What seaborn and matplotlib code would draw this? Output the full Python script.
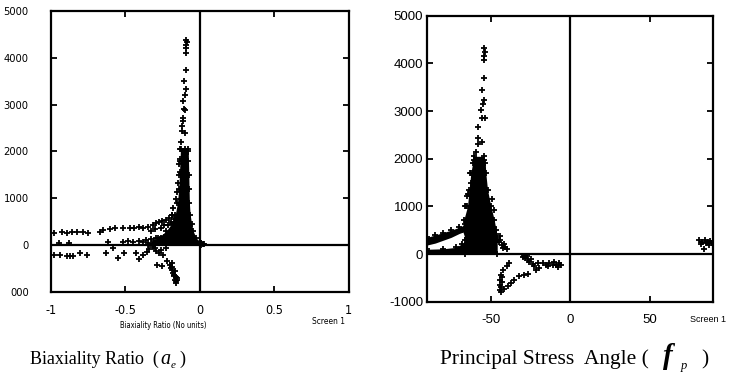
import matplotlib
matplotlib.use("Agg")
import matplotlib.pyplot as plt
import pandas as pd
import seaborn as sns

# ---------------- Biaxiality ratio panel ----------------
ratio_spike_x = [-0.092, -0.088, -0.092, -0.090, -0.092, -0.094, -0.104, -0.096, -0.100, -0.110,
                 -0.104, -0.098, -0.116, -0.112, -0.118, -0.120, -0.100, -0.126, -0.124, -0.098,
                 -0.132, -0.138, -0.136, -0.146, -0.152, -0.160, -0.178, -0.186, -0.172, -0.080,
                 -0.090]
ratio_spike_y = [4380, 4330, 4270, 4200, 4100, 3740, 3500, 3330, 3210, 3080,
                 2900, 2890, 2720, 2640, 2540, 2440, 2400, 2190, 2040, 2060,
                 1840, 1720, 1560, 1330, 1140, 990, 790, 640, 560, 2000,
                 1950]

ratio_core_y = [2050, 1800, 1500, 1200, 900, 650, 450, 300, 150, 40, 0]
ratio_core_lo = [-0.130, -0.133, -0.137, -0.142, -0.150, -0.165, -0.190, -0.225, -0.280, -0.350, -0.350]
ratio_core_hi = [-0.078, -0.076, -0.074, -0.072, -0.070, -0.065, -0.055, -0.045, -0.025, 0.010, 0.010]

ratio_band_x = [-0.982, -0.927, -0.894, -0.860, -0.827, -0.783, -0.749, -0.672, -0.650, -0.605,
                -0.572, -0.517, -0.472, -0.439, -0.406, -0.384, -0.350, -0.317, -0.295, -0.273,
                -0.251, -0.228, -0.206, -0.184, -0.195, -0.215, -0.240, -0.260, -0.300, -0.330]
ratio_band_y = [247, 283, 247, 283, 283, 269, 247, 283, 318, 339,
                354, 354, 368, 368, 389, 368, 389, 424, 460, 481,
                509, 530, 566, 636, 495, 424, 430, 360, 330, 300]

ratio_low_x = [-0.949, -0.882, -0.616, -0.517, -0.483, -0.450, -0.406, -0.361, -0.328, -0.295,
               -0.262, -0.240, -0.217, -0.200, -0.380, -0.310, -0.270, 0.005, 0.020, 0.027]
ratio_low_y = [50, 50, 71, 57, 85, 71, 85, 106, 127, 141,
               156, 177, 198, 226, 60, 90, 120, 40, 30, 25]

ratio_neg_x = [-0.980, -0.940, -0.894, -0.872, -0.850, -0.805, -0.756, -0.632, -0.583, -0.550,
               -0.512, -0.428, -0.406, -0.384, -0.355, -0.340, -0.313, -0.295, -0.273, -0.250,
               -0.228, -0.300, -0.260]
ratio_neg_y = [-212, -212, -233, -233, -233, -177, -226, -177, -71, -283,
               -177, -177, -304, -212, -156, -85, -35, -120, -177, -212,
               -57, -60, -100]

ratio_arm_x = [-0.286, -0.252, -0.218, -0.201, -0.195, -0.184, -0.180, -0.173, -0.166, -0.162,
               -0.157, -0.184, -0.168, -0.150, -0.176, -0.158, -0.152, -0.190]
ratio_arm_y = [-424, -460, -354, -424, -495, -530, -600, -672, -742, -813,
               -778, -389, -566, -707, -640, -690, -760, -470]

# ---------------- Principal stress angle panel ----------------
angle_spike_x = [-54.6, -54.0, -54.2, -54.6, -54.4, -55.3, -54.2, -54.8, -56.3, -55.3,
                 -53.6, -57.8, -58.4, -55.3, -59.5, -60.5, -54.2, -58.0, -62.6, -64.5,
                 -66.0, -63.0, -64.7, -65.8, -63.7, -47.9, -49.0]
angle_spike_y = [4316, 4246, 4150, 4071, 3687, 3443, 3233, 3150, 3024, 2849,
                 2849, 2675, 2430, 2360, 2151, 1976, 1976, 2300, 1500, 1250,
                 1000, 1700, 1208, 999, 789, 929, 1150]

angle_core_y = [2050, 1900, 1700, 1350, 1000, 720, 510, 300, 0]
angle_core_lo = [-60.5, -61.5, -62.6, -63.7, -64.7, -67.0, -68.0, -66.0, -66.0]
angle_core_hi = [-54.2, -53.5, -53.2, -52.1, -50.0, -47.9, -46.8, -46.0, -46.0]

angle_upper_x = [-90, -85, -80, -75, -70, -66]
angle_upper_lo = [190, 230, 290, 350, 430, 480]
angle_upper_hi = [350, 400, 450, 500, 560, 620]

angle_lower_x = [-90, -80, -72, -68, -65, -62]
angle_lower_hi = [100, 110, 140, 220, 330, 480]

angle_side_x = [-50, -48, -47, -46, -45, -44, -43, -42, -41, -40, -44.5, -42.5]
angle_side_y = [700, 560, 420, 330, 250, 300, 180, 220, 150, 110, 380, 130]

angle_hook_x = [-38.4, -40.1, -42.6, -43.7, -44.1, -44.3, -44.1, -43.7, -41.6, -39.5,
                -37.4, -35.3, -32.1, -29.0, -26.9, -21.6, -43.0, -42.8, -43.5]
angle_hook_y = [-189, -244, -328, -433, -538, -642, -747, -803, -733, -663,
                -607, -538, -468, -433, -412, -342, -480, -590, -700]

angle_neg_x = [-30.0, -28.4, -26.9, -24.8, -25.8, -23.7, -22.7, -20.6, -17.4, -15.3,
               -13.2, -11.1, -9.0, -8.0, -5.9, -6.9, -10.1, -14.3, -19.5, -29.0, -27.5]
angle_neg_y = [-63, -84, -119, -105, -175, -203, -244, -189, -189, -223,
               -189, -223, -223, -272, -223, -189, -175, -258, -293, -40, -50]

angle_edge_x = [81.3, 83.0, 85.0, 86.5, 88.0, 89.0, 84.4, 82.5, 87.0, 85.5]
angle_edge_y = [294, 260, 300, 250, 280, 240, 100, 200, 190, 230]

ratio_ticks = [-1, -0.5, 0, 0.5, 1]
ratio_ticklabels = ["-1", "-0.5", "0", "0.5", "1"]
value_ticks = [-1000, 0, 1000, 2000, 3000, 4000, 5000]
ratio_value_labels = ["000", "0", "1000", "2000", "3000", "4000", "5000"]
angle_value_labels = ["-1000", "0", "1000", "2000", "3000", "4000", "5000"]
angle_ticks = [-50, 0, 50]

sns.set_style("white")
plt.rcParams["font.family"] = ["Liberation Sans"]
plt.rcParams["text.color"] = "black"
plt.rcParams["xtick.color"] = "black"
plt.rcParams["ytick.color"] = "black"

narrow = dict(family="DejaVu Sans", stretch="condensed")

fig = plt.figure(figsize=(7.4, 3.76), dpi=100)
ax1 = fig.add_axes([51 / 740, 1 - 291.7 / 376, 297.6 / 740, 280.7 / 376])
ax2 = fig.add_axes([427.3 / 740, 1 - 301.7 / 376, 286 / 740, 286 / 376])

mk = dict(marker="+", color="black", s=18, linewidth=1.3, legend=False)


def scatter(ax, xs, ys):
    sns.scatterplot(data=pd.DataFrame({"x": xs, "y": ys}), x="x", y="y", ax=ax, **mk)


# left panel marks
ax1.fill_betweenx(ratio_core_y, ratio_core_lo, ratio_core_hi, color="black", lw=0)
scatter(ax1, ratio_core_lo, ratio_core_y)
scatter(ax1, ratio_core_hi, ratio_core_y)
for xs, ys in [(ratio_spike_x, ratio_spike_y), (ratio_band_x, ratio_band_y),
               (ratio_low_x, ratio_low_y), (ratio_neg_x, ratio_neg_y),
               (ratio_arm_x, ratio_arm_y)]:
    scatter(ax1, xs, ys)

# right panel marks
ax2.fill_betweenx(angle_core_y, angle_core_lo, angle_core_hi, color="black", lw=0)
ax2.fill_between(angle_upper_x, angle_upper_lo, angle_upper_hi, color="black", lw=0)
ax2.fill_between(angle_lower_x, 0, angle_lower_hi, color="black", lw=0)
scatter(ax2, angle_core_lo, angle_core_y)
scatter(ax2, angle_core_hi, angle_core_y)
scatter(ax2, angle_upper_x, angle_upper_hi)
scatter(ax2, angle_lower_x, angle_lower_hi)
for xs, ys in [(angle_spike_x, angle_spike_y), (angle_side_x, angle_side_y),
               (angle_hook_x, angle_hook_y), (angle_neg_x, angle_neg_y),
               (angle_edge_x, angle_edge_y)]:
    scatter(ax2, xs, ys)

for ax in (ax1, ax2):
    ax.axhline(0, color="black", lw=1.6, zorder=0.5)
    ax.axvline(0, color="black", lw=1.6, zorder=0.5)
    ax.set_ylim(-1000, 5000)
    ax.set_xlabel("")
    ax.set_ylabel("")
    for sp in ax.spines.values():
        sp.set_linewidth(1.6)
        sp.set_color("black")
    ax.tick_params(direction="in", length=4, width=1.3, color="black",
                   top=True, right=True, bottom=True, left=True)
    ax.set_yticks(value_ticks)

ax1.set_xlim(-1, 1)
ax1.set_xticks(ratio_ticks)
ax1.set_xticklabels(ratio_ticklabels, fontsize=9, **narrow)
ax1.set_yticklabels(ratio_value_labels, fontsize=8, **narrow)
ax1.tick_params(axis="x", pad=9)
ax1.tick_params(axis="y", pad=16)

ax2.set_xlim(-90, 90)
ax2.set_xticks(angle_ticks)
ax2.set_xticklabels([str(t) for t in angle_ticks], fontsize=9.5)
ax2.set_yticklabels(angle_value_labels, fontsize=9.5)
ax2.tick_params(axis="x", pad=9)
ax2.tick_params(axis="y", pad=3)

W, H = 740, 376


def ftext(x, y, s, **kw):
    return fig.text(x / W, 1 - y / H, s, **kw)


ftext(163, 326, "Biaxiality Ratio (No units)", fontsize=5.5, ha="center", va="center", **narrow)
ftext(328, 322, "Screen 1", fontsize=6, ha="center", va="center", **narrow)
ftext(690, 319, "Screen 1", fontsize=6.5, ha="left", va="center")
ftext(570, 340, "Angle (Degrees)", fontsize=8, ha="center", va="center")
fig.patches.append(plt.Rectangle((440 / W, 0), 260 / W, 1 - 334 / H, transform=fig.transFigure,
                                 color="white", zorder=5))

renderer = fig.canvas.get_renderer()


def caption(x, y, pieces):
    # pieces: (text, size, style, weight, gap_before, drop)
    for s, size, style, weight, gap, drop in pieces:
        x += gap
        t = ftext(x, y + drop, s, fontsize=size, style=style, weight=weight,
                  family="Liberation Serif", ha="left", va="baseline", zorder=6)
        x = t.get_window_extent(renderer).x1


caption(30, 364, [("Biaxiality Ratio  (", 13, "normal", "normal", 0, 0),
                  ("a", 14.5, "italic", "normal", 2, 0),
                  ("e", 8, "italic", "normal", 0, 4),
                  (")", 13, "normal", "normal", 3, 0)])
caption(440, 364, [("Principal Stress  Angle (", 15.5, "normal", "normal", 0, 0),
                   ("f", 21, "italic", "bold", 14, 0),
                   ("p", 9, "italic", "normal", 8, 5),
                   (")", 15.5, "normal", "normal", 14, 0)])

fig.savefig("out.png", dpi=100)
